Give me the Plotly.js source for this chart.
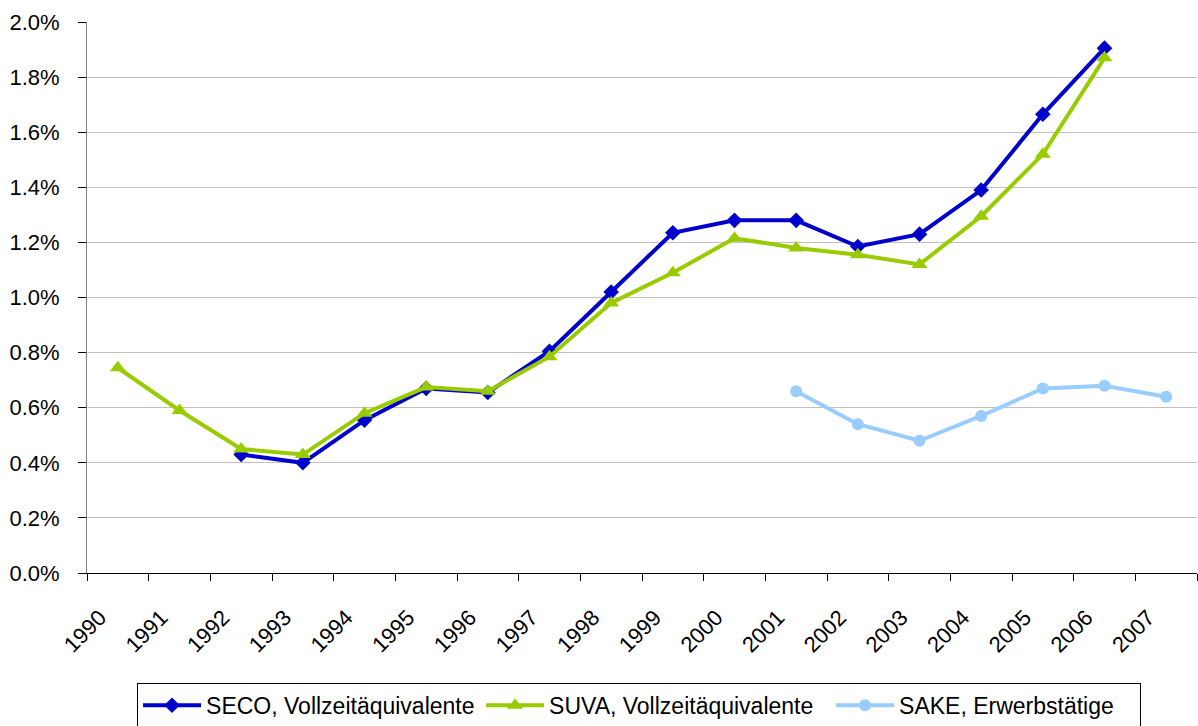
<!DOCTYPE html>
<html>
<head>
<meta charset="utf-8">
<script src="https://cdn.plot.ly/plotly-3.0.1.min.js"></script>
<style>html,body{margin:0;padding:0;background:#fff;}#chart{width:1198px;height:726px;}</style>
</head>
<body>
<div id="chart"></div>
<script>
var years = ["1990","1991","1992","1993","1994","1995","1996","1997","1998","1999","2000","2001","2002","2003","2004","2005","2006","2007"];
var seco = [null, null, 0.43, 0.40, 0.555, 0.67, 0.655, 0.805, 1.02, 1.235, 1.28, 1.28, 1.185, 1.23, 1.39, 1.665, 1.905, null];
var suva = [0.745, 0.59, 0.45, 0.43, 0.58, 0.675, 0.66, 0.785, 0.98, 1.09, 1.215, 1.18, 1.155, 1.12, 1.295, 1.52, 1.87, null];
var sake = [null, null, null, null, null, null, null, null, null, null, null, 0.66, 0.54, 0.48, 0.57, 0.67, 0.68, 0.64];
var names = ["SECO, Vollzeitäquivalente", "SUVA, Vollzeitäquivalente", "SAKE, Erwerbstätige"];
var yTicks = [0, 0.2, 0.4, 0.6, 0.8, 1.0, 1.2, 1.4, 1.6, 1.8, 2.0];
var yTickText = yTicks.map(function (v) { return v.toFixed(1) + '%'; });

var traces = [
  {x: years, y: seco, name: names[0], type: 'scatter', mode: 'lines+markers', legendwidth: 270,
   line: {color: '#0000CC', width: 4}, marker: {symbol: 'diamond', size: 12, color: '#0000CC'}},
  {x: years, y: suva, name: names[1], type: 'scatter', mode: 'lines+markers', legendwidth: 277,
   line: {color: '#99CC00', width: 4}, marker: {symbol: 'triangle-up', size: 14, color: '#99CC00'}},
  {x: years, y: sake, name: names[2], type: 'scatter', mode: 'lines+markers', legendwidth: 236,
   line: {color: '#99CCFF', width: 4}, marker: {symbol: 'circle', size: 12, color: '#99CCFF'}}
];

var layout = {
  width: 1198, height: 726,
  margin: {l: 87, r: 1, t: 22, b: 153},
  paper_bgcolor: '#ffffff', plot_bgcolor: '#ffffff',
  font: {family: 'Liberation Sans, Arial, sans-serif', size: 22, color: '#000'},
  showlegend: true,
  legend: {orientation: 'h', xref: 'container', yref: 'container',
           x: 0.1144, xanchor: 'left', y: 0.0595, yanchor: 'top',
           bordercolor: '#000', borderwidth: 1, font: {size: 23}, itemwidth: 58,
           tracegroupgap: 0},
  xaxis: {type: 'category', categoryorder: 'array', categoryarray: years,
          tickson: 'boundaries', ticks: 'outside', ticklen: 7, tickcolor: '#000',
          showline: true, linecolor: '#000', linewidth: 1, showgrid: false,
          tickangle: -45, tickfont: {size: 22}, ticklabelshift: -18, ticklabelstandoff: 22,
          range: [-0.5, 17.5], fixedrange: true, zeroline: false},
  yaxis: {range: [0, 2.0], tickvals: yTicks, ticktext: yTickText,
          ticks: 'outside', ticklen: 8, tickcolor: '#000', showline: true, linecolor: '#808080',
          linewidth: 1, showgrid: true, gridcolor: '#c0c0c0', gridwidth: 1, zeroline: false,
          tickfont: {size: 22}, ticklabelstandoff: 14, fixedrange: true}
};

Plotly.newPlot('chart', traces, layout, {displayModeBar: false, staticPlot: true});
</script>
</body>
</html>
